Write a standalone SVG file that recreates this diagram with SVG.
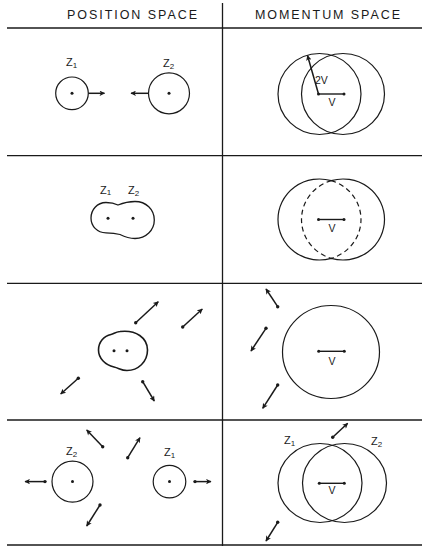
<svg xmlns="http://www.w3.org/2000/svg" width="422" height="548" viewBox="0 0 422 548">
<style>
.frame{stroke:#1a1a1a;stroke-width:1.3;fill:none}
.c{stroke:#1a1a1a;stroke-width:1.2;fill:none}
.blob{stroke:#1a1a1a;stroke-width:1.3;fill:none}
.thick{stroke-width:1.6}
.dash{stroke-dasharray:5 3.5}
.ar{stroke:#1a1a1a;stroke-width:1.5;fill:none;marker-end:url(#ah)}
.seg{stroke:#1a1a1a;stroke-width:1.4}
.dot{fill:#1a1a1a}
text{font-family:"Liberation Sans",Arial,sans-serif;fill:#1a1a1a}
.hd{font-size:12.5px}
.z{font-size:11px}
.sub{font-size:8px}
.v{font-size:10.5px}
</style>
<defs>
<marker id="ah" viewBox="0 0 10 10" refX="9" refY="5" markerUnits="userSpaceOnUse" markerWidth="7" markerHeight="5.5" orient="auto">
<path d="M0,0 L10,5 L0,10 L2.5,5 Z" fill="#1a1a1a"/>
</marker>
</defs>
<rect width="422" height="548" fill="#fff"/>

<g id="frame">
<line class="frame" x1="222.5" y1="3" x2="222.5" y2="546"/>
<line class="frame" x1="7" y1="28" x2="422" y2="28"/>
<line class="frame" x1="7" y1="155.7" x2="422" y2="155.7"/>
<line class="frame" x1="7" y1="283.3" x2="422" y2="283.3"/>
<line class="frame" x1="7" y1="420" x2="422" y2="420"/>
<line class="frame" x1="7" y1="545" x2="422" y2="545"/>
</g>

<g id="headers">
<text class="hd" x="67" y="19" textLength="130" lengthAdjust="spacing">POSITION SPACE</text>
<text class="hd" x="255" y="19" textLength="145" lengthAdjust="spacing">MOMENTUM SPACE</text>
</g>

<!-- Row 1 position -->
<g id="p1-z1">
<circle class="c" cx="72" cy="93.3" r="16.3"/>
<circle class="dot" cx="72" cy="93.3" r="1.5"/>
<text class="z" x="66" y="66">Z<tspan class="sub" dy="1.5">1</tspan></text>
</g>
<g id="p1-z2">
<circle class="c" cx="169" cy="93.3" r="20.5"/>
<circle class="dot" cx="169" cy="93.3" r="1.5"/>
<text class="z" x="163" y="66.5">Z<tspan class="sub" dy="2">2</tspan></text>
</g>

<!-- Row 1 momentum -->
<g id="m1-circles">
<ellipse class="c" cx="319.5" cy="94" rx="41.5" ry="40.5"/>
<ellipse class="c" cx="343" cy="94" rx="41.5" ry="40.5"/>
<line class="seg" x1="318.5" y1="94" x2="344" y2="94"/>
<circle class="dot" cx="318.5" cy="94" r="1.5"/>
<circle class="dot" cx="344" cy="94" r="1.5"/>
<text class="v" x="328.5" y="106">V</text>
<text class="v" x="315" y="83.5">2V</text>
</g>

<!-- Row 2 position -->
<g id="p2-blob">
<path class="blob" d="M118,205 C113,202.5 110,202.5 106,202.5 C97,202.5 91,210 91,218 C91,226 97,232.8 106,232.8 C112,232.8 115,233 120,234.5 C125,237 129,238.5 135,238.5 C146,238.5 154.3,230 154.3,220 C154.3,209.5 146,201.5 135,201.5 C128,201.5 123,203 118,205 Z"/>
<circle class="dot" cx="108" cy="218.3" r="1.5"/>
<circle class="dot" cx="133" cy="218.3" r="1.5"/>
<text class="z" x="100" y="193.5">Z<tspan class="sub" dy="1.5">1</tspan></text>
<text class="z" x="128" y="193.5">Z<tspan class="sub" dy="2">2</tspan></text>
</g>

<!-- Row 2 momentum -->
<g id="m2-circles">
<path class="c" d="M331.25,180.66 A41.5,40.5 0 1 0 331.25,258.34 A41.5,40.5 0 1 0 331.25,180.66 Z"/>
<path class="c dash" d="M331.25,180.66 A41.5,40.5 0 0 1 331.25,258.34"/>
<path class="c dash" d="M331.25,180.66 A41.5,40.5 0 0 0 331.25,258.34"/>
<line class="seg" x1="318.5" y1="219.5" x2="344" y2="219.5"/>
<circle class="dot" cx="318.5" cy="219.5" r="1.5"/>
<circle class="dot" cx="344" cy="219.5" r="1.5"/>
<text class="v" x="328.5" y="231.5">V</text>
</g>

<!-- Row 3 position -->
<g id="p3-blob">
<path class="blob thick" d="M98.5,350 C98.5,342 104,336 111,334.5 C114,334 115,332 120,331.5 C136,329.5 147.5,338 147.5,350 C147.5,362 138,370.5 127,370.5 C121,370.5 119,368 114,367 C105,365 98.5,358 98.5,350 Z"/>
<circle class="dot" cx="114" cy="350.7" r="1.5"/>
<circle class="dot" cx="127" cy="350.7" r="1.5"/>
</g>

<!-- Row 3 momentum -->
<g id="m3-circle">
<ellipse class="c" cx="331" cy="352" rx="48.5" ry="46.5"/>
<line class="seg" x1="318.7" y1="351.3" x2="344.3" y2="351.3"/>
<circle class="dot" cx="318.7" cy="351.3" r="1.5"/>
<circle class="dot" cx="344.3" cy="351.3" r="1.5"/>
<text class="v" x="328.5" y="364.5">V</text>
</g>

<!-- Row 4 position -->
<g id="p4-z2">
<circle class="c" cx="72.5" cy="481.6" r="20.5"/>
<circle class="dot" cx="72.5" cy="481.6" r="1.5"/>
<text class="z" x="66" y="455">Z<tspan class="sub" dy="2">2</tspan></text>
</g>
<g id="p4-z1">
<circle class="c" cx="169.5" cy="481.6" r="16.3"/>
<circle class="dot" cx="169.5" cy="481.6" r="1.5"/>
<text class="z" x="164" y="456">Z<tspan class="sub" dy="1.5">1</tspan></text>
</g>

<!-- Row 4 momentum -->
<g id="m4-circles">
<ellipse class="c" cx="320" cy="483" rx="42" ry="39.5"/>
<ellipse class="c" cx="344.5" cy="483" rx="42" ry="39.5"/>
<line class="seg" x1="319.3" y1="483.3" x2="344.3" y2="483.3"/>
<circle class="dot" cx="319.3" cy="483.3" r="1.5"/>
<circle class="dot" cx="344.3" cy="483.3" r="1.5"/>
<text class="v" x="328.5" y="493.5">V</text>
<text class="z" x="284" y="444">Z<tspan class="sub" dy="1.5">1</tspan></text>
<text class="z" x="371" y="444.5">Z<tspan class="sub" dy="2">2</tspan></text>
</g>

<g id="connectors">
<!-- row 1 -->
<line class="ar" x1="88.3" y1="93.3" x2="104.5" y2="93.3"/>
<line class="ar" x1="148.5" y1="93.3" x2="131" y2="93.3"/>
<line class="ar" x1="318.5" y1="94" x2="307.5" y2="55.5"/>
<!-- row 3 position -->
<line class="ar" x1="135.7" y1="322.7" x2="158.3" y2="301.7"/>
<line class="ar" x1="182.7" y1="327" x2="202.3" y2="309"/>
<line class="ar" x1="78.3" y1="378.3" x2="60.7" y2="394"/>
<line class="ar" x1="142.7" y1="381.7" x2="154.3" y2="401"/>
<circle class="dot" cx="135.7" cy="322.7" r="1.7"/>
<circle class="dot" cx="182.7" cy="327" r="1.7"/>
<circle class="dot" cx="78.3" cy="378.3" r="1.7"/>
<circle class="dot" cx="142.7" cy="381.7" r="1.7"/>
<!-- row 3 momentum -->
<line class="ar" x1="277.7" y1="306.7" x2="266" y2="289"/>
<line class="ar" x1="266" y1="328.3" x2="251" y2="351"/>
<line class="ar" x1="277.7" y1="385" x2="262.7" y2="408.3"/>
<circle class="dot" cx="277.7" cy="306.7" r="1.7"/>
<circle class="dot" cx="266" cy="328.3" r="1.7"/>
<circle class="dot" cx="277.7" cy="385" r="1.7"/>
<!-- row 4 position -->
<line class="ar" x1="45" y1="481.6" x2="25" y2="481.6"/>
<line class="ar" x1="195" y1="481.6" x2="211" y2="481.6"/>
<line class="ar" x1="102.7" y1="446.7" x2="86.7" y2="430"/>
<line class="ar" x1="127.7" y1="457.7" x2="140" y2="437.7"/>
<line class="ar" x1="100" y1="505" x2="86.7" y2="526"/>
<circle class="dot" cx="45" cy="481.6" r="1.7"/>
<circle class="dot" cx="195" cy="481.6" r="1.7"/>
<circle class="dot" cx="102.7" cy="446.7" r="1.7"/>
<circle class="dot" cx="127.7" cy="457.7" r="1.7"/>
<circle class="dot" cx="100" cy="505" r="1.7"/>
<!-- row 4 momentum -->
<line class="ar" x1="332.7" y1="437.3" x2="347.7" y2="423.3"/>
<line class="ar" x1="277.7" y1="522.3" x2="266" y2="541"/>
<circle class="dot" cx="332.7" cy="437.3" r="1.7"/>
<circle class="dot" cx="277.7" cy="522.3" r="1.7"/>
</g>
</svg>
